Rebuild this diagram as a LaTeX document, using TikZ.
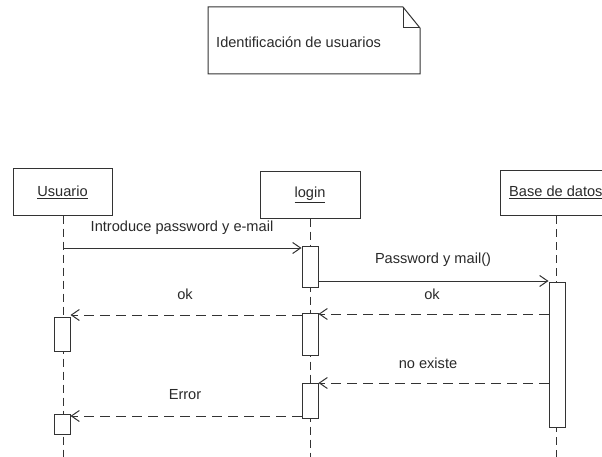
\documentclass[tikz,border=0pt]{standalone}
\usepackage{fontspec}
\setmainfont{Liberation Sans}
\usetikzlibrary{arrows.meta}
\definecolor{ln}{HTML}{333333}
\definecolor{tx}{HTML}{2A2A2A}
\begin{document}
\begin{tikzpicture}[x=1pt,y=-1pt,
  every node/.style={font=\fontsize{14.6}{17}\selectfont, text=tx},
  lifebox/.style={draw=ln, line width=1pt, fill=white, inner sep=0pt},
  act/.style={draw=ln, line width=1pt, fill=white, minimum width=16pt, inner sep=0pt},
  lifeline/.style={draw=ln, line width=1pt, dash pattern=on 8pt off 5pt},
  msg/.style={draw=ln, line width=1pt, -{Straight Barb[length=8pt,width=11pt]}},
  reply/.style={draw=ln, line width=1pt, dash pattern=on 10pt off 6pt, -{Straight Barb[length=8pt,width=11pt]}},
  lbl/.style={inner sep=0pt}
]
\useasboundingbox (0,0) rectangle (602,457);
\clip (0,0) rectangle (602,457);
\fill[white] (0,0) rectangle (602,457);

% note
\draw[draw=ln, line width=1pt, fill=white] (208,7) -- (403,7) -- (420,28) -- (420,74) -- (208,74) -- cycle;
\draw[draw=ln, line width=1pt] (403,7) -- (403,28) -- (420,28);
\node[lbl, anchor=west] (note) at (216,42) {Identificación de usuarios};

% lifeline heads
\node[lifebox, minimum width=99pt, minimum height=46pt] (usuario) at (62.5,192) {\underline{Usuario}};
\node[lifebox, minimum width=100pt, minimum height=46pt] (login) at (310,195) {\underline{login}};
\node[lifebox, minimum width=112pt, minimum height=45pt, anchor=north west] (db) at (500,170) {};
\node[lbl, anchor=west] (dbl) at (509,192.5) {\underline{Base de datos}};

% lifelines
\coordinate (uend) at (63,460);
\coordinate (lend) at (310,460);
\coordinate (dend) at (556,460);
\draw[lifeline] (usuario.south -| uend) -- (uend);
\draw[lifeline] (login.south -| lend) -- (lend);
\draw[lifeline] (db.south -| dend) -- (dend);

% activations
\node[act, minimum height=41pt, anchor=north] (l1) at (310,246) {};
\node[act, minimum height=145pt, anchor=north] (d1) at (557,282) {};
\node[act, minimum height=42pt, anchor=north] (l2) at (310,313) {};
\node[act, minimum height=34pt, anchor=north] (u1) at (62,317) {};
\node[act, minimum height=35pt, anchor=north] (l3) at (310,383) {};
\node[act, minimum height=20pt, anchor=north] (u2) at (62,414) {};

% messages
\coordinate (m1) at (63,248);
\draw[msg] (m1) -- (l1.west |- m1);
\node[lbl] (t1) at (182,228) {Introduce password y e-mail};

\coordinate (m2) at (318,281);
\draw[msg] (l1.east |- m2) -- (d1.west |- m2);
\node[lbl] (t2) at (433,260) {Password y mail()};

\coordinate (m3) at (549,314);
\draw[reply] (d1.west |- m3) -- (l2.east |- m3);
\node[lbl] (t3) at (432,294) {ok};

\coordinate (m4) at (302,315);
\draw[reply] (l2.west |- m4) -- (u1.east |- m4);
\node[lbl] (t4) at (185,294) {ok};

\coordinate (m5) at (549,383);
\draw[reply] (d1.west |- m5) -- (l3.east |- m5);
\node[lbl] (t5) at (428,363) {no existe};

\coordinate (m6) at (302,416);
\draw[reply] (l3.west |- m6) -- (u2.east |- m6);
\node[lbl] (t6) at (185,395) {Error};
\end{tikzpicture}
\end{document}
